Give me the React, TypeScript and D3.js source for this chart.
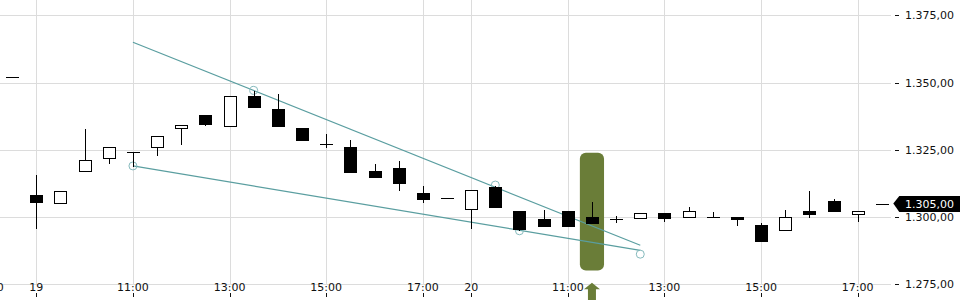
import React from "react";
import * as d3 from "d3";

// candle index (0 = day 19, 09:00; one step = 30 min)
const candleIndex = [-1, 0, 1, 2, 3, 4, 5, 6, 7, 8, 9, 10, 11, 12, 13, 14, 15, 16, 17, 18, 19, 20, 21, 22, 23, 24, 25, 26, 27, 28, 29, 30, 31, 32, 33, 34, 35];
const opens = [1352.0, 1308.2, 1305.1, 1317.0, 1321.8, 1324.1, 1325.9, 1333.0, 1337.8, 1334.0, 1344.9, 1340.2, 1333.1, 1327.0, 1326.0, 1317.1, 1318.1, 1308.9, 1307.0, 1302.9, 1311.2, 1302.2, 1299.3, 1302.2, 1300.0, 1299.2, 1299.5, 1301.4, 1299.9, 1299.9, 1299.9, 1296.9, 1295.1, 1302.2, 1305.9, 1301.1, 1305.0];
const highs = [1352.0, 1316.0, 1309.8, 1333.1, 1325.9, 1324.1, 1330.0, 1334.1, 1337.8, 1344.9, 1347.2, 1346.1, 1333.1, 1331.2, 1329.0, 1320.1, 1321.1, 1311.8, 1307.0, 1309.9, 1311.9, 1302.2, 1303.0, 1302.2, 1306.0, 1300.8, 1301.4, 1301.4, 1304.1, 1302.3, 1299.9, 1298.0, 1303.0, 1310.1, 1307.1, 1302.1, 1305.0];
const lows = [1352.0, 1296.0, 1305.1, 1317.0, 1320.2, 1319.0, 1323.1, 1327.2, 1334.2, 1334.0, 1341.0, 1334.0, 1328.8, 1326.2, 1316.9, 1315.0, 1310.2, 1305.5, 1307.0, 1296.0, 1303.8, 1295.2, 1296.8, 1296.8, 1297.9, 1298.3, 1299.5, 1298.4, 1299.9, 1299.9, 1297.2, 1291.0, 1295.1, 1300.1, 1302.1, 1298.4, 1305.0];
const closes = [1352.0, 1305.7, 1309.8, 1321.1, 1325.9, 1324.1, 1330.0, 1334.1, 1334.7, 1344.9, 1341.0, 1334.0, 1328.8, 1327.0, 1316.9, 1315.0, 1312.8, 1306.8, 1307.0, 1309.9, 1303.8, 1295.6, 1296.8, 1296.8, 1297.9, 1299.2, 1301.4, 1299.5, 1302.1, 1299.9, 1299.2, 1291.0, 1299.9, 1301.0, 1302.1, 1302.1, 1305.0];

// x-axis ticks
const xTickIndex = [-2, 0, 4, 8, 12, 16, 18, 22, 26, 30, 34];
const xTickLabels = ["17:00", "19", "11:00", "13:00", "15:00", "17:00", "20", "11:00", "13:00", "15:00", "17:00"];

// y-axis ticks
const yTicks = [1275, 1300, 1325, 1350, 1375];

// trend lines
const upperLineIndex = [4, 25];
const upperLineValue = [1365.0, 1289.5];
const upperMarkIndex = [9, 19];
const upperMarkValue = [1347.1, 1311.9];
const lowerLineIndex = [4, 25];
const lowerLineValue = [1319.0, 1287.6];
const lowerMarkIndex = [4, 20, 25];
const lowerMarkValue = [1319.0, 1294.9, 1286.2];

// signal
const signalIndex = 23;
const signalRange = [1280.1, 1323.9];

const lastPrice = 1305.0;

const de = d3.formatLocale({ decimal: ",", thousands: ".", grouping: [3], currency: ["", " €"] });
const fmt = de.format(",.2f");

const W = 960;
const H = 300;
const FONT = "'DejaVu Sans', sans-serif";
const GRID = "#dcdcdc";
const TEAL = "#5a9ea0";
const TEAL_LIGHT = "#86babd";
const GREEN = "#6a7d38";

export default function App() {
  const x = d3.scaleLinear().domain([0, 34]).range([36.3, 857.7]);
  const y = d3.scaleLinear().domain([1275, 1375]).range([284.3, 15.3]);
  const step = x(1) - x(0);
  const bodyW = 12;
  const plotRight = 891;
  const line = d3
    .line<[number, number]>()
    .x((d) => x(d[0]))
    .y((d) => y(d[1]));

  const sx = x(signalIndex);
  const arrowTop = 282.7;

  return (
    <svg
      width={W}
      height={H}
      style={{ position: "absolute", left: 0, top: 0, background: "#fff" }}
      fontFamily={FONT}
    >
      {/* grid */}
      <g shapeRendering="crispEdges">
        {yTicks.map((t) => (
          <line key={"gy" + t} x1={0} x2={plotRight} y1={Math.round(y(t)) + 0.5} y2={Math.round(y(t)) + 0.5} stroke={GRID} />
        ))}
        {xTickIndex.map((t, i) => (
          <line key={"gx" + i} x1={Math.round(x(t)) + 0.5} x2={Math.round(x(t)) + 0.5} y1={0} y2={y(1275)} stroke={GRID} />
        ))}
      </g>

      {/* signal box */}
      <rect
        x={sx - step / 2}
        width={step}
        y={y(signalRange[1])}
        height={y(signalRange[0]) - y(signalRange[1])}
        rx={6}
        ry={6}
        fill={GREEN}
      />
      <path
        d={`M${sx},${arrowTop} L${sx + 8},${arrowTop + 6.5} L${sx + 4},${arrowTop + 6.5} L${sx + 4},${H + 2} L${sx - 4},${H + 2} L${sx - 4},${arrowTop + 6.5} L${sx - 8},${arrowTop + 6.5} Z`}
        fill={GREEN}
      />

      {/* trend lines */}
      <path d={line(upperLineIndex.map((d, i) => [d, upperLineValue[i]]) as any) || ""} stroke={TEAL} strokeWidth={1.2} fill="none" />
      <path d={line(lowerLineIndex.map((d, i) => [d, lowerLineValue[i]]) as any) || ""} stroke={TEAL} strokeWidth={1.2} fill="none" />
      {upperMarkIndex.map((d, i) => (
        <circle key={"um" + i} cx={x(d)} cy={y(upperMarkValue[i])} r={4} fill="none" stroke={TEAL_LIGHT} strokeWidth={1} />
      ))}
      {lowerMarkIndex.map((d, i) => (
        <circle key={"lm" + i} cx={x(d)} cy={y(lowerMarkValue[i])} r={4} fill="none" stroke={TEAL_LIGHT} strokeWidth={1} />
      ))}

      {/* candles */}
      <g shapeRendering="crispEdges">
        {candleIndex.map((ci, i) => {
          const cx = Math.round(x(ci)) + 0.5;
          const o = opens[i];
          const c = closes[i];
          const top = Math.round(y(Math.max(o, c))) + 0.5;
          const bot = Math.round(y(Math.min(o, c))) + 0.5;
          const up = c > o;
          const flat = Math.abs(c - o) < 0.05;
          return (
            <g key={"c" + i}>
              <line x1={cx} x2={cx} y1={Math.round(y(highs[i])) + 0.5} y2={Math.round(y(lows[i])) + 0.5} stroke="#000" />
              {flat ? (
                <line x1={cx - bodyW / 2 - 0.5} x2={cx + bodyW / 2 + 0.5} y1={top} y2={top} stroke="#000" />
              ) : (
                <rect x={cx - bodyW / 2} y={top} width={bodyW} height={bot - top} fill={up ? "#fff" : "#000"} stroke="#000" />
              )}
            </g>
          );
        })}
      </g>

      {/* y axis */}
      <g fontSize={11} fill="#111">
        {yTicks.map((t) => (
          <g key={"yt" + t}>
            <line x1={895} x2={899} y1={Math.round(y(t)) + 0.5} y2={Math.round(y(t)) + 0.5} stroke="#111" shapeRendering="crispEdges" />
            <text x={905} y={y(t) + 4}>{fmt(t)}</text>
          </g>
        ))}
      </g>

      {/* last price */}
      <path
        d={`M${893.3},${y(lastPrice)} L${899.3},${y(lastPrice) - 7.5} L${W},${y(lastPrice) - 7.5} L${W},${y(lastPrice) + 8.5} L${899.3},${y(lastPrice) + 8.5} Z`}
        fill="#000"
      />
      <text x={905} y={y(lastPrice) + 4.5} fontSize={11} fill="#fff">
        {fmt(lastPrice)}
      </text>

      {/* x axis */}
      <g fontSize={11} fill="#111" textAnchor="middle">
        {xTickIndex.map((t, i) => (
          <g key={"xt" + i}>
            <text x={x(t)} y={290.7}>{xTickLabels[i]}</text>
            <line x1={Math.round(x(t)) + 0.5} x2={Math.round(x(t)) + 0.5} y1={293} y2={297} stroke="#111" shapeRendering="crispEdges" />
          </g>
        ))}
      </g>
    </svg>
  );
}
